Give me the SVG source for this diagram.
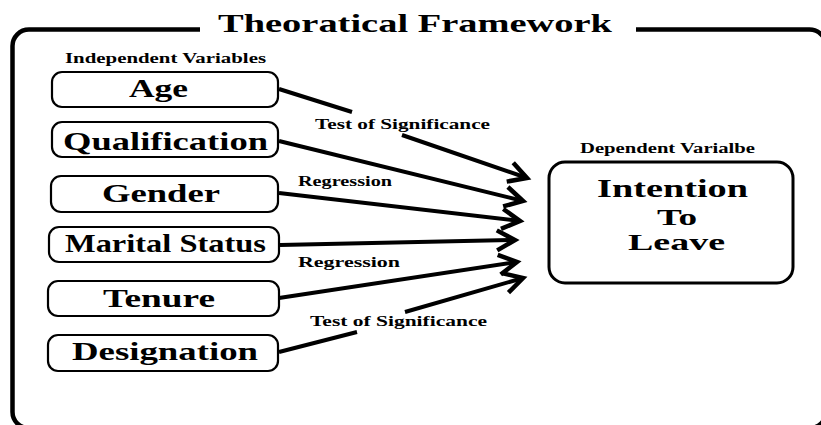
<svg xmlns="http://www.w3.org/2000/svg" width="821" height="425" viewBox="0 0 821 425" font-family="'Liberation Serif', 'DejaVu Serif', serif">
<defs>
<style>
text{font-family:"Liberation Serif","DejaVu Serif",serif;font-weight:bold;fill:#000;}
.big{font-size:26px;}
.mid{font-size:23px;}
.small{font-size:14px;}
.lbl{font-size:14.5px;}
.box{fill:#fff;stroke:#000;stroke-width:2.2;}
.frame{fill:none;stroke:#000;stroke-width:4.5;}
.conn{fill:none;stroke:#000;stroke-width:4;marker-end:url(#chev);}
</style>
<marker id="chev" markerUnits="userSpaceOnUse" markerWidth="40" markerHeight="40" viewBox="-30 -20 40 40" refX="0" refY="0" orient="auto" overflow="visible">
<path d="M-18,-10 L0,0 L-18,10" fill="none" stroke="#000" stroke-width="4.5" stroke-linejoin="miter"/>
</marker>
</defs>
<rect width="821" height="425" fill="#fff"/>
<g id="frame">
<path class="frame" d="M200,29.5 H29 A16.5,16.5 0 0 0 12.5,46 V412 A16,16 0 0 0 28.5,428 H810 A16,16 0 0 0 826,412 V46 A16.5,16.5 0 0 0 809.5,29.5 H636"/>
<text class="big" x="218" y="32" textLength="394" lengthAdjust="spacingAndGlyphs">Theoratical Framework</text>
</g>
<g id="independent-label">
<text class="small" x="65" y="63" textLength="201" lengthAdjust="spacingAndGlyphs">Independent Variables</text>
</g>
<g id="connectors">
<path class="conn" d="M279,89 L352,112 M402,135 L527,178"/>
<path class="conn" d="M279,141 L523,201"/>
<path class="conn" d="M279,193 L520,221"/>
<path class="conn" d="M280,245 L515,240"/>
<path class="conn" d="M279,298 L517,262"/>
<path class="conn" d="M279,352 L357,332 M405,312 L523,278"/>
</g>
<g id="labels">
<text class="lbl" x="315" y="129" textLength="175" lengthAdjust="spacingAndGlyphs">Test of Significance</text>
<text class="lbl" x="298" y="186" textLength="94" lengthAdjust="spacingAndGlyphs">Regression</text>
<text class="lbl" x="298" y="267" textLength="102" lengthAdjust="spacingAndGlyphs">Regression</text>
<text class="lbl" x="310" y="326" textLength="177" lengthAdjust="spacingAndGlyphs">Test of Significance</text>
</g>
<g id="age">
<rect class="box" x="52" y="72" width="226" height="35" rx="10"/>
<text class="big" x="129" y="97" textLength="59" lengthAdjust="spacingAndGlyphs">Age</text>
</g>
<g id="qualification">
<rect class="box" x="52" y="122" width="226" height="35" rx="10"/>
<text class="big" x="63" y="150" textLength="205" lengthAdjust="spacingAndGlyphs">Qualification</text>
</g>
<g id="gender">
<rect class="box" x="51" y="176" width="227" height="36" rx="10"/>
<text class="big" x="102" y="202" textLength="118" lengthAdjust="spacingAndGlyphs">Gender</text>
</g>
<g id="marital-status">
<rect class="box" x="49" y="227" width="230" height="35" rx="10"/>
<text class="big" x="65" y="252" textLength="201" lengthAdjust="spacingAndGlyphs">Marital Status</text>
</g>
<g id="tenure">
<rect class="box" x="48" y="281" width="231" height="35" rx="10"/>
<text class="big" x="103" y="307" textLength="112" lengthAdjust="spacingAndGlyphs">Tenure</text>
</g>
<g id="designation">
<rect class="box" x="48" y="335" width="230" height="36" rx="10"/>
<text class="big" x="72" y="360" textLength="186" lengthAdjust="spacingAndGlyphs">Designation</text>
</g>
<g id="intention-to-leave">
<text class="small" x="580" y="153" textLength="175" lengthAdjust="spacingAndGlyphs">Dependent Varialbe</text>
<rect x="549" y="162" width="244" height="121" rx="16" fill="#fff" stroke="#000" stroke-width="3"/>
<text class="big" x="597" y="197" textLength="151" lengthAdjust="spacingAndGlyphs">Intention</text>
<text class="mid" x="657" y="225" textLength="40" lengthAdjust="spacingAndGlyphs">To</text>
<text class="mid" x="628" y="250" textLength="97" lengthAdjust="spacingAndGlyphs">Leave</text>
</g>
</svg>
